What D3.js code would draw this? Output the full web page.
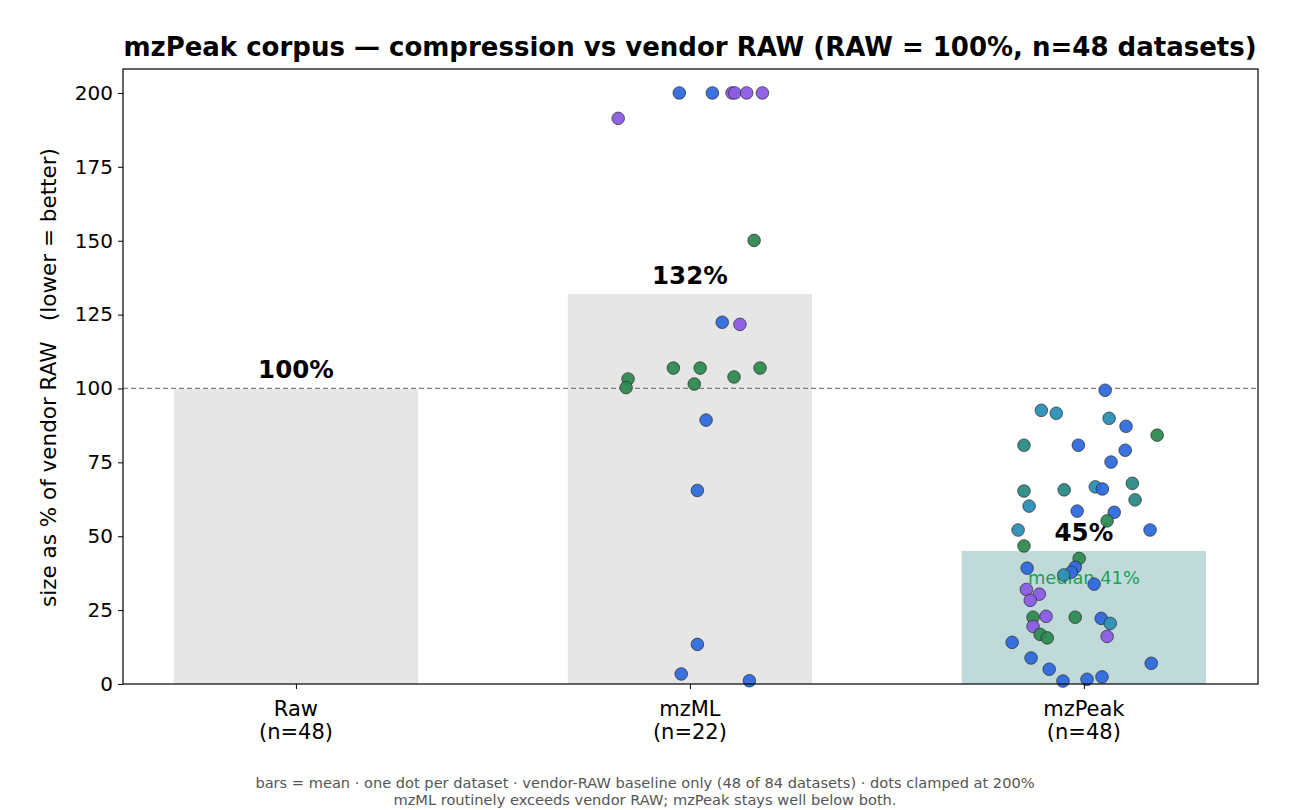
<!DOCTYPE html>
<html><head><meta charset="utf-8">
<script src="https://cdn.jsdelivr.net/npm/d3@7/dist/d3.min.js"></script>
<style>body{margin:0;background:#fff;} svg{font-family:"DejaVu Sans",sans-serif;}</style>
</head><body><svg id="c" width="1290" height="810"></svg>
<script>
const categories = ["Raw", "mzML", "mzPeak"];
const counts = [48, 22, 48];
const barMeans = [100, 132, 45];
const barLabels = ["100%", "132%", "45%"];
const medianLabel = "median 41%";
const medianValue = 41;
const yTicks = [0, 25, 50, 75, 100, 125, 150, 175, 200];
const groupColors = {B:"#2f6ade", P:"#8c5ce4", G:"#2e8a52", T:"#2c8a86", C:"#2b90b6"};

// mzML per-dataset values (% of RAW, clamped 200), jitter (category units), group
const mzmlValues = [200,200,200,200,200,200,191.4,150.1,122.4,121.7,103.2,100.3,106.9,106.9,101.5,103.9,106.9,89.3,65.5,13.4,3.4,1.1];
const mzmlJitter = [-0.027,0.057,0.107,0.114,0.144,0.184,-0.182,0.163,0.082,0.127,-0.157,-0.162,-0.042,0.026,0.011,0.112,0.178,0.041,0.019,0.019,-0.022,0.151];
const mzmlGroups = ["B","B","P","P","P","P","P","G","B","P","G","G","G","G","G","G","G","B","B","B","B","B"];

const mzpeakValues = [99.4,92.6,91.6,89.9,87.2,84.2,80.8,80.8,79.1,75.1,67.9,65.3,65.7,66.7,66.0,62.3,60.2,58.5,58.1,55.2,52.1,52.1,46.7,42.5,39.2,39.5,37.8,36.9,33.8,32.0,30.4,28.3,22.6,22.9,22.6,22.2,20.5,19.5,16.8,15.6,16.1,14.1,8.8,7.0,5.0,1.0,1.6,2.4];
const mzpeakJitter = [0.054,-0.108,-0.070,0.064,0.107,0.186,-0.152,-0.014,0.105,0.069,0.123,-0.152,-0.050,0.029,0.047,0.130,-0.139,-0.017,0.077,0.059,-0.167,0.168,-0.152,-0.012,-0.144,-0.022,-0.032,-0.051,0.026,-0.146,-0.113,-0.136,-0.129,-0.096,-0.022,0.044,0.067,-0.129,-0.111,-0.093,0.059,-0.182,-0.134,0.171,-0.088,-0.053,0.008,0.046];
const mzpeakGroups = ["B","C","C","C","B","G","T","B","B","B","T","T","T","C","B","T","C","B","B","G","C","B","G","G","B","B","B","C","B","P","P","P","G","P","G","B","C","P","G","G","P","B","B","B","B","B","B","B"];

const svg = d3.select("#c");
const L = 123, R = 1258, T = 69, B = 684;
const x = d3.scaleLinear().domain([-0.439, 2.442]).range([L, R]);
const y = d3.scaleLinear().domain([0, 208.1]).range([B, T]);
const bw = 0.62;

const g = svg.append("g");
// bars
g.selectAll("rect.bar").data(barMeans).enter().append("rect")
  .attr("x", (d,i)=>x(i-bw/2)).attr("width", (d,i)=>x(bw)-x(0))
  .attr("y", d=>y(d)).attr("height", d=>y(0)-y(d))
  .attr("fill", (d,i)=> i===2 ? "#bfdad9" : "#e6e6e6");

// reference line
g.append("line").attr("x1", L).attr("x2", R).attr("y1", y(100)).attr("y2", y(100))
  .attr("stroke", "#808080").attr("stroke-width", 1.3).attr("stroke-dasharray", "5,3");

// bar labels
g.selectAll("text.bl").data(barLabels).enter().append("text")
  .attr("x", (d,i)=>x(i)).attr("y", (d,i)=>y(barMeans[i]) - 10)
  .attr("text-anchor","middle").attr("font-weight","bold").attr("font-size", 24.5)
  .attr("fill","#000").text(d=>d);

// median label
g.append("text").attr("x", x(2)).attr("y", y(medianValue) + 21)
  .attr("text-anchor","middle").attr("font-size", 17.8).attr("fill","#17a257").text(medianLabel);

// dots
function dots(vals, jit, grp, ci){
  g.selectAll(null).data(vals).enter().append("circle")
    .attr("cx", (d,i)=>x(ci + jit[i])).attr("cy", d=>y(d)).attr("r", 6.3)
    .attr("fill", (d,i)=>groupColors[grp[i]]).attr("fill-opacity", 0.95)
    .attr("stroke", "#2a2a2a").attr("stroke-width", 0.7);
}
dots(mzmlValues, mzmlJitter, mzmlGroups, 1);
dots(mzpeakValues, mzpeakJitter, mzpeakGroups, 2);

// axes
const yAxis = d3.axisLeft(y).tickValues(yTicks).tickSize(5).tickPadding(5);
const ya = svg.append("g").attr("transform", `translate(${L},0)`).call(yAxis);
ya.select(".domain").remove();
ya.selectAll("text").attr("font-size", 20).attr("fill","#000").attr("font-family","DejaVu Sans");
ya.selectAll("line").attr("stroke","#000");

const xAxis = d3.axisBottom(x).tickValues([0,1,2]).tickSize(5).tickFormat("");
const xa = svg.append("g").attr("transform", `translate(0,${B})`).call(xAxis);
xa.select(".domain").remove();
xa.selectAll("line").attr("stroke","#000");
categories.forEach((c,i)=>{
  const t = svg.append("text").attr("x", x(i)).attr("text-anchor","middle").attr("font-size",21).attr("fill","#000");
  t.append("tspan").attr("x", x(i)).attr("y", 716).text(c);
  t.append("tspan").attr("x", x(i)).attr("y", 739).text(`(n=${counts[i]})`);
});

// frame
svg.append("rect").attr("x", L).attr("y", T).attr("width", R-L).attr("height", B-T)
  .attr("fill","none").attr("stroke","#000").attr("stroke-width",1.2);

// y label
svg.append("text").attr("transform", `translate(56,${(T+B)/2 + 1}) rotate(-90)`)
  .attr("text-anchor","middle").attr("font-size",21.5).attr("fill","#000")
  .attr("xml:space","preserve").style("white-space","pre")
  .text("size as % of vendor RAW   (lower = better)");

// title
svg.append("text").attr("x", 690).attr("y", 56).attr("text-anchor","middle")
  .attr("font-weight","bold").attr("font-size", 26).attr("fill","#000")
  .text("mzPeak corpus — compression vs vendor RAW (RAW = 100%, n=48 datasets)");

// footer
svg.append("text").attr("x", 645).attr("y", 788).attr("text-anchor","middle").attr("font-size",14.6).attr("fill","#555")
  .text("bars = mean · one dot per dataset · vendor-RAW baseline only (48 of 84 datasets) · dots clamped at 200%");
svg.append("text").attr("x", 645).attr("y", 805).attr("text-anchor","middle").attr("font-size",14.6).attr("fill","#555")
  .text("mzML routinely exceeds vendor RAW; mzPeak stays well below both.");
</script></body></html>
